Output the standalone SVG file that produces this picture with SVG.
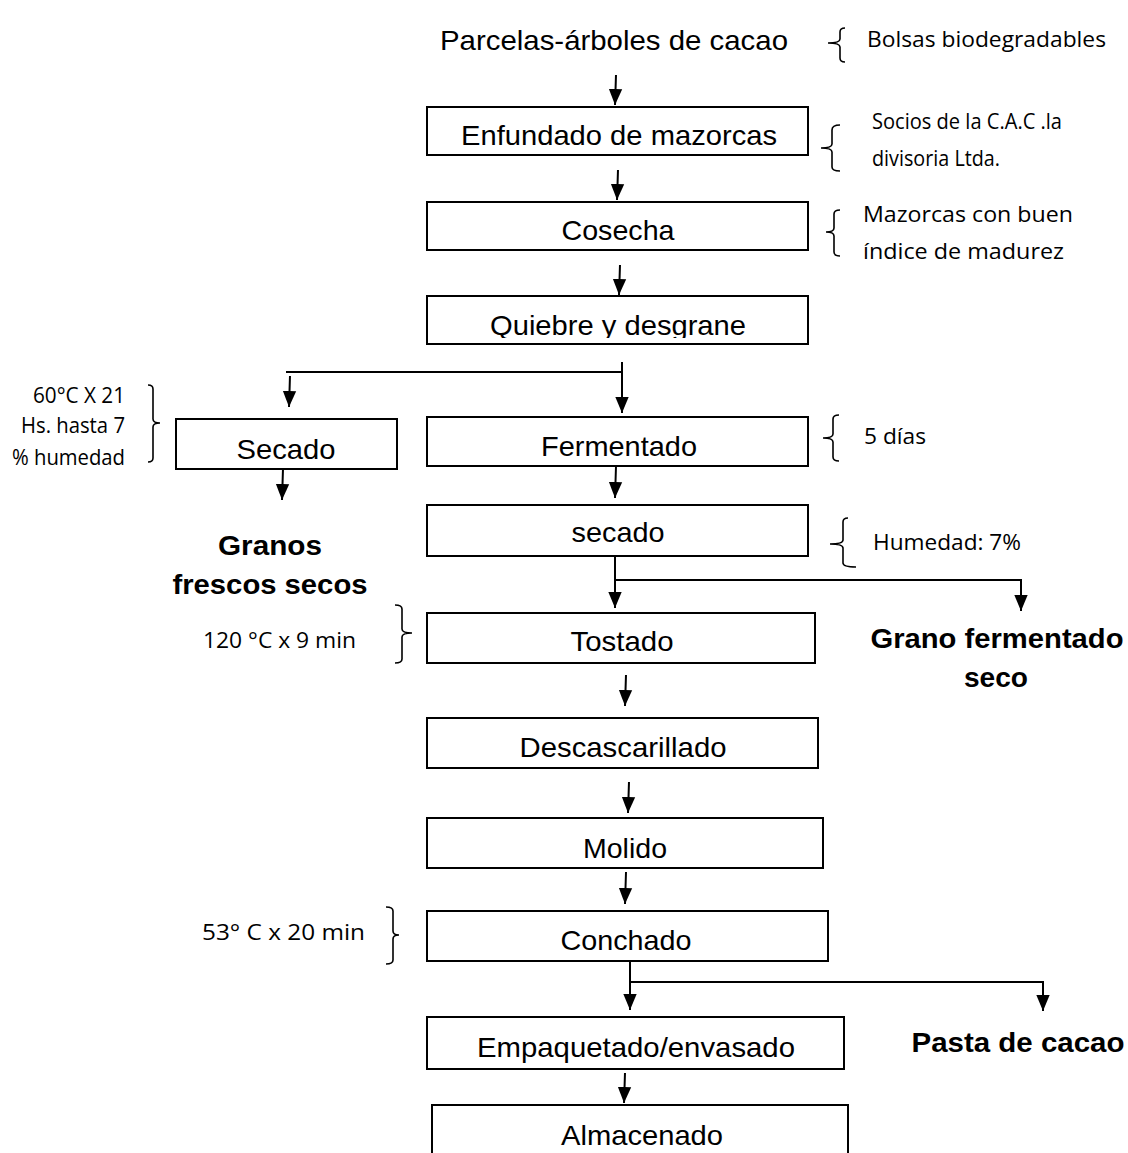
<svg xmlns="http://www.w3.org/2000/svg" width="1128" height="1153" viewBox="0 0 1128 1153">
<style>
.box{fill:#fff;stroke:#000;stroke-width:2}
.lbl{font-family:"Liberation Sans",Arial,sans-serif;font-size:28px;fill:#000;text-anchor:middle}
.bold{font-family:"Liberation Sans",Arial,sans-serif;font-size:28px;font-weight:bold;fill:#000;text-anchor:middle}
.ann{font-family:"Open Sans","Liberation Sans",sans-serif;font-size:21px;fill:#000}
.annr{font-family:"Open Sans","Liberation Sans",sans-serif;font-size:21px;fill:#000;text-anchor:end}
.ln{fill:none;stroke:#000;stroke-width:2}
.br{fill:none;stroke:#000;stroke-width:1.6}
</style>
<defs>
<marker id="ah" markerUnits="userSpaceOnUse" markerWidth="16" markerHeight="20" viewBox="0 -8 18 16" refX="18" refY="0" orient="auto">
<path d="M0,-7.5 L18,0 L0,7.5 z" fill="#000"/>
</marker>
<clipPath id="qclip"><rect x="428" y="297" width="380" height="41"/></clipPath>
</defs>

<g id="n-parcelas"><text class="lbl" x="614" y="50" textLength="348" lengthAdjust="spacingAndGlyphs">Parcelas-árboles de cacao</text></g>
<g id="n-enfundado"><rect class="box" x="427" y="107" width="381" height="48"/><text class="lbl" x="619" y="145" textLength="316" lengthAdjust="spacingAndGlyphs">Enfundado de mazorcas</text></g>
<g id="n-cosecha"><rect class="box" x="427" y="202" width="381" height="48"/><text class="lbl" x="618" y="240" textLength="113" lengthAdjust="spacingAndGlyphs">Cosecha</text></g>
<g id="n-quiebre"><rect class="box" x="427" y="296" width="381" height="48"/><text class="lbl" x="618" y="335" textLength="256" lengthAdjust="spacingAndGlyphs" clip-path="url(#qclip)">Quiebre y desgrane</text></g>
<g id="n-secado1"><rect class="box" x="176" y="419" width="221" height="50"/><text class="lbl" x="286" y="459" textLength="99" lengthAdjust="spacingAndGlyphs">Secado</text></g>
<g id="n-fermentado"><rect class="box" x="427" y="417" width="381" height="49"/><text class="lbl" x="619" y="456" textLength="156" lengthAdjust="spacingAndGlyphs">Fermentado</text></g>
<g id="n-granos"><text class="bold" x="270" y="555" textLength="104" lengthAdjust="spacingAndGlyphs">Granos</text><text class="bold" x="270" y="594" textLength="195" lengthAdjust="spacingAndGlyphs">frescos secos</text></g>
<g id="n-secado2"><rect class="box" x="427" y="505" width="381" height="51"/><text class="lbl" x="618" y="542" textLength="93" lengthAdjust="spacingAndGlyphs">secado</text></g>
<g id="n-tostado"><rect class="box" x="427" y="613" width="388" height="50"/><text class="lbl" x="622" y="651" textLength="103" lengthAdjust="spacingAndGlyphs">Tostado</text></g>
<g id="n-grano-ferm"><text class="bold" x="997" y="648" textLength="253" lengthAdjust="spacingAndGlyphs">Grano fermentado</text><text class="bold" x="996" y="687" textLength="64" lengthAdjust="spacingAndGlyphs">seco</text></g>
<g id="n-descascarillado"><rect class="box" x="427" y="718" width="391" height="50"/><text class="lbl" x="623" y="757" textLength="207" lengthAdjust="spacingAndGlyphs">Descascarillado</text></g>
<g id="n-molido"><rect class="box" x="427" y="818" width="396" height="50"/><text class="lbl" x="625" y="858" textLength="84" lengthAdjust="spacingAndGlyphs">Molido</text></g>
<g id="n-conchado"><rect class="box" x="427" y="911" width="401" height="50"/><text class="lbl" x="626" y="950" textLength="131" lengthAdjust="spacingAndGlyphs">Conchado</text></g>
<g id="n-pasta"><text class="bold" x="1018" y="1052" textLength="213" lengthAdjust="spacingAndGlyphs">Pasta de cacao</text></g>
<g id="n-empaquetado"><rect class="box" x="427" y="1017" width="417" height="52"/><text class="lbl" x="636" y="1057" textLength="318" lengthAdjust="spacingAndGlyphs">Empaquetado/envasado</text></g>
<g id="n-almacenado"><path class="ln" d="M432,1160 L432,1105 L848,1105 L848,1160"/><text class="lbl" x="642" y="1145" textLength="162" lengthAdjust="spacingAndGlyphs">Almacenado</text></g>

<g id="annotations">
<path class="br" d="M845,28 Q840,28 840,32 L840,39 Q840,43 828,43 Q840,43 840,47 L840,58 Q840,62 845,62"/>
<text class="ann" x="867" y="47" textLength="239" lengthAdjust="spacingAndGlyphs">Bolsas biodegradables</text>
<path class="br" d="M840,125 Q832,125 832,130 L832,144 Q832,148 821,148 Q832,148 832,152 L832,167 Q832,171 840,171"/>
<text class="ann" x="872" y="129" textLength="190" lengthAdjust="spacingAndGlyphs">Socios de la C.A.C .la</text>
<text class="ann" x="872" y="166" textLength="128" lengthAdjust="spacingAndGlyphs">divisoria Ltda.</text>
<path class="br" d="M840,210 Q834,210 834,214 L834,228 Q834,232 826,232 Q834,232 834,236 L834,252 Q834,256 840,256"/>
<text class="ann" x="863" y="222" textLength="210" lengthAdjust="spacingAndGlyphs">Mazorcas con buen</text>
<text class="ann" x="863" y="259" textLength="201" lengthAdjust="spacingAndGlyphs">índice de madurez</text>
<path class="br" d="M839,415 Q833,415 833,419 L833,434 Q833,438 823,438 Q833,438 833,442 L833,457 Q833,461 839,461"/>
<text class="ann" x="864" y="444" textLength="62" lengthAdjust="spacingAndGlyphs">5 días</text>
<path class="br" d="M848,518 Q843,518 843,522 L843,540 Q843,544 830,544 Q843,544 843,548 L843,563 Q843,567 856,567"/>
<text class="ann" x="873" y="550" textLength="148" lengthAdjust="spacingAndGlyphs">Humedad: 7%</text>
<path class="br" d="M148,385 Q153,385 153,389 L153,419 Q153,423 160,423 Q153,423 153,427 L153,458 Q153,462 148,462"/>
<text class="annr" x="125" y="403" textLength="92" lengthAdjust="spacingAndGlyphs">60°C X 21</text>
<text class="annr" x="125" y="433" textLength="104" lengthAdjust="spacingAndGlyphs">Hs. hasta 7</text>
<text class="annr" x="125" y="465" textLength="113" lengthAdjust="spacingAndGlyphs">% humedad</text>
<path class="br" d="M395,605 Q402,605 402,609 L402,629 Q402,633 412,633 Q402,633 402,637 L402,659 Q402,663 395,663"/>
<text class="ann" x="203" y="648" textLength="153" lengthAdjust="spacingAndGlyphs">120 °C x 9 min</text>
<path class="br" d="M386,907 Q393,907 393,911 L393,931 Q393,935 399,935 Q393,935 393,939 L393,960 Q393,964 386,964"/>
<text class="ann" x="202" y="940" textLength="163" lengthAdjust="spacingAndGlyphs">53° C x 20 min</text>
</g>

<g id="connectors">
<path class="ln" d="M616,75 L615,105" marker-end="url(#ah)"/>
<path class="ln" d="M618,170 L617,200" marker-end="url(#ah)"/>
<path class="ln" d="M620,265 L619,295" marker-end="url(#ah)"/>
<path class="ln" d="M286,372 L622,372"/>
<path class="ln" d="M622,362 L622,413" marker-end="url(#ah)"/>
<path class="ln" d="M290,376 L289,407" marker-end="url(#ah)"/>
<path class="ln" d="M283,469 L282,500" marker-end="url(#ah)"/>
<path class="ln" d="M616,466 L615,498" marker-end="url(#ah)"/>
<path class="ln" d="M615,556 L615,608" marker-end="url(#ah)"/>
<path class="ln" d="M615,580 L1021,580 L1021,611" marker-end="url(#ah)"/>
<path class="ln" d="M626,675 L625,706" marker-end="url(#ah)"/>
<path class="ln" d="M629,782 L628,813" marker-end="url(#ah)"/>
<path class="ln" d="M626,872 L625,904" marker-end="url(#ah)"/>
<path class="ln" d="M630,961 L630,1010" marker-end="url(#ah)"/>
<path class="ln" d="M630,982 L1043,982 L1043,1011" marker-end="url(#ah)"/>
<path class="ln" d="M625,1073 L624,1103" marker-end="url(#ah)"/>
</g>
</svg>
